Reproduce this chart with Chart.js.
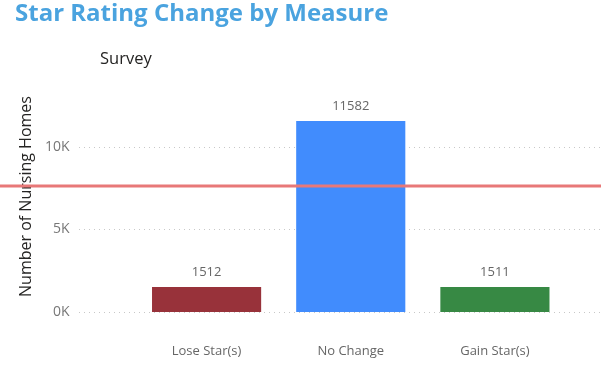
<!DOCTYPE html>
<html>
<head>
<meta charset="utf-8">
<script src="https://cdn.jsdelivr.net/npm/chart.js@4/dist/chart.umd.min.js"></script>
<style>
  html, body { margin: 0; padding: 0; background: #fff; }
  #wrap { position: relative; width: 601px; height: 368px; overflow: hidden; }
  #title { position: absolute; left: 15px; top: -5px; font-family: "Open Sans", sans-serif; font-weight: 700; font-size: 24px; color: #4aa3df; white-space: nowrap; }
  #sub { position: absolute; left: 100px; top: 46px; font-family: "Open Sans", sans-serif; font-size: 16.5px; color: #252423; white-space: nowrap; }
  canvas { position: absolute; left: 0; top: 0; }
</style>
</head>
<body>
<div id="wrap">
  <canvas id="c" width="601" height="368"></canvas>
  <div id="title">Star Rating Change by Measure</div>
  <div id="sub">Survey</div>
</div>
<script>
const categories = ["Lose Star(s)", "No Change", "Gain Star(s)"];
const nursingHomes = [1512, 11582, 1511];
const barColors = ["#98323a", "#418cfd", "#378944"];
const yTickValues = [0, 5000, 10000];
const yTickLabels = ["0K", "5K", "10K"];
const yAxisMax = 14000;
const referenceLine = 7640;

const gridPlugin = {
  id: 'extGrid',
  beforeDatasetsDraw(chart) {
    const ctx = chart.ctx, y = chart.scales.y;
    ctx.save();
    ctx.strokeStyle = '#c8c8c8';
    ctx.lineWidth = 1;
    ctx.setLineDash([1, 4]);
    y.ticks.forEach(t => {
      const py = Math.round(y.getPixelForValue(t.value)) + 0.5;
      ctx.beginPath();
      ctx.moveTo(79, py);
      ctx.lineTo(chart.width, py);
      ctx.stroke();
    });
    ctx.restore();
  }
};

const labelPlugin = {
  id: 'valLabels',
  afterDatasetsDraw(chart) {
    const ctx = chart.ctx;
    const meta = chart.getDatasetMeta(0);
    ctx.save();
    ctx.font = '13px "Open Sans", sans-serif';
    ctx.fillStyle = '#666666';
    ctx.textAlign = 'center';
    ctx.textBaseline = 'middle';
    meta.data.forEach((bar, i) => {
      ctx.fillText(String(nursingHomes[i]), bar.x, bar.y - 15);
    });
    ctx.restore();
  }
};

const refLinePlugin = {
  id: 'refLine',
  afterDraw(chart) {
    const ctx = chart.ctx, y = chart.scales.y;
    const py = y.getPixelForValue(referenceLine);
    ctx.save();
    ctx.strokeStyle = '#e87878';
    ctx.lineWidth = 3;
    ctx.beginPath();
    ctx.moveTo(0, py);
    ctx.lineTo(chart.width, py);
    ctx.stroke();
    ctx.restore();
  }
};

new Chart(document.getElementById('c'), {
  type: 'bar',
  data: {
    labels: categories,
    datasets: [{
      data: nursingHomes,
      backgroundColor: barColors,
      borderWidth: 0,
      categoryPercentage: 1,
      barPercentage: 0.757
    }]
  },
  options: {
    responsive: false,
    animation: false,
    devicePixelRatio: 1,
    layout: { padding: { top: 81, left: 13, right: 34, bottom: 0 } },
    plugins: { legend: { display: false }, tooltip: { enabled: false } },
    scales: {
      x: {
        afterFit(scale) { scale.height = 56; },
        grid: { display: false, drawTicks: false },
        border: { display: false },
        ticks: { padding: 31, color: '#666666', font: { family: 'Open Sans', size: 13 } }
      },
      y: {
        min: 0,
        max: yAxisMax,
        afterBuildTicks(scale) { scale.ticks = yTickValues.map(v => ({ value: v })); },
        afterFit(scale) { scale.width = 134.5 - 13; },
        grid: { display: false, drawTicks: true, tickLength: 60 },
        border: { display: false },
        ticks: {
          padding: 5,
          color: '#777777',
          font: { family: 'Open Sans', size: 14 },
          callback(v) { const i = yTickValues.indexOf(v); return i >= 0 ? yTickLabels[i] : ''; }
        },
        title: {
          display: true,
          text: 'Number of Nursing Homes',
          color: '#252423',
          font: { family: 'Open Sans', size: 16 },
          padding: { top: 4, bottom: 4 }
        }
      }
    }
  },
  plugins: [gridPlugin, labelPlugin, refLinePlugin]
});
</script>
</body>
</html>
